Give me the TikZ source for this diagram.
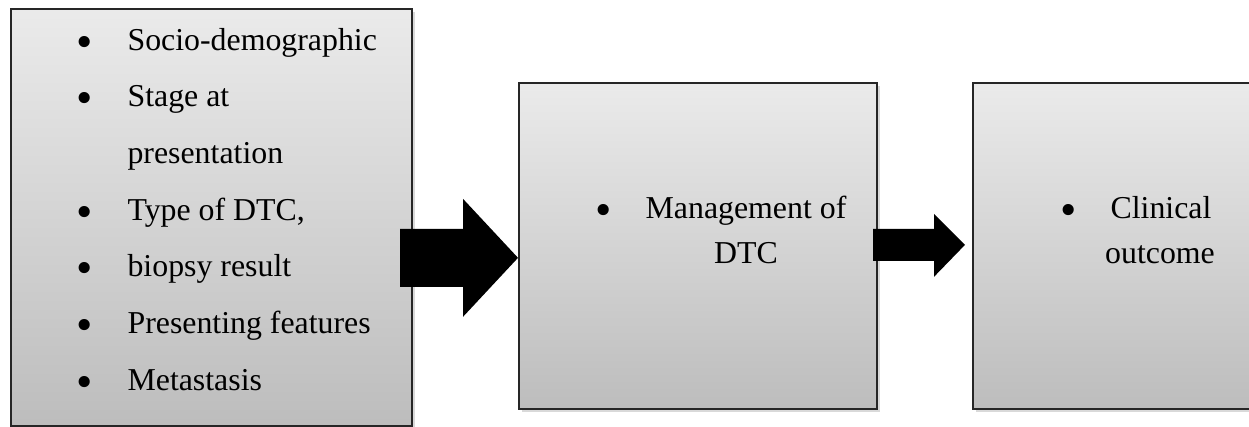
\documentclass[tikz,border=0pt]{standalone}
\usepackage{fontspec}
\setmainfont{Liberation Serif}
\usepackage{tikz}
\usetikzlibrary{calc,shadows}

\def\px{0.0128cm}

\begin{document}
\begin{tikzpicture}[x=0.0128cm, y=-0.0128cm,
    box/.style={draw=black!85, line width=0.6pt, top color=black!8, bottom color=black!26,
        drop shadow={shadow xshift=1.2pt, shadow yshift=-1.2pt, opacity=0.3},
        anchor=north west, inner sep=0pt},
    txt/.style={inner sep=0pt, font=\fontsize{11.6}{14}\selectfont},
    dot/.style={inner sep=0pt, font=\fontsize{17}{17}\selectfont},
    blockarrow/.style={fill=black}]
    \useasboundingbox (0,0) rectangle (1249,426);

    % Boxes
    \node[box, minimum width=401*\px, minimum height=417*\px] (b1) at (10,8) {};
    \node[box, minimum width=358*\px, minimum height=326*\px] (b2) at (518,82) {};
    \node[box, minimum width=290*\px, minimum height=326*\px] (b3) at (972,82) {};

    % Items of first box
    \foreach \y/\item/\name in {50/Socio-demographic/i1, 106.6/Stage at/i2, 220/{Type of DTC,}/i4,
        276.5/biopsy result/i5, 333/Presenting features/i6, 390/Metastasis/i7} {
        \node[dot, anchor=base] (\name dot) at (85,\y+7) {\textbullet};
        \node[txt, anchor=base west] (\name) at (127,\y) {\item};
    }
    \node[txt, anchor=base west] (i3) at (127,163) {presentation};

    % Second box
    \node[dot, anchor=base] (m0) at (604,225) {\textbullet};
    \node[txt, anchor=base] (m1) at (746,218) {Management of};
    \node[txt, anchor=base] (m2) at (746,263) {DTC};

    % Third box
    \node[dot, anchor=base] (c0) at (1069,225) {\textbullet};
    \node[txt, anchor=base] (c1) at (1161,218) {Clinical};
    \node[txt, anchor=base] (c2) at (1160,263) {outcome};

    % Arrows
    \coordinate (t1) at ($(b2.west)+(0,12)$);
    \fill[blockarrow] (t1) -- ++(-55,-59) -- ++(0,30) -- ++(-63,0) -- ++(0,58)
        -- ++(63,0) -- ++(0,30) -- cycle;
    \coordinate (t2) at ($(b3.west)+(-7,-1)$);
    \fill[blockarrow] (t2) -- ++(-31,-31) -- ++(0,15) -- ++(-61,0) -- ++(0,32)
        -- ++(61,0) -- ++(0,16) -- cycle;
\end{tikzpicture}
\end{document}
